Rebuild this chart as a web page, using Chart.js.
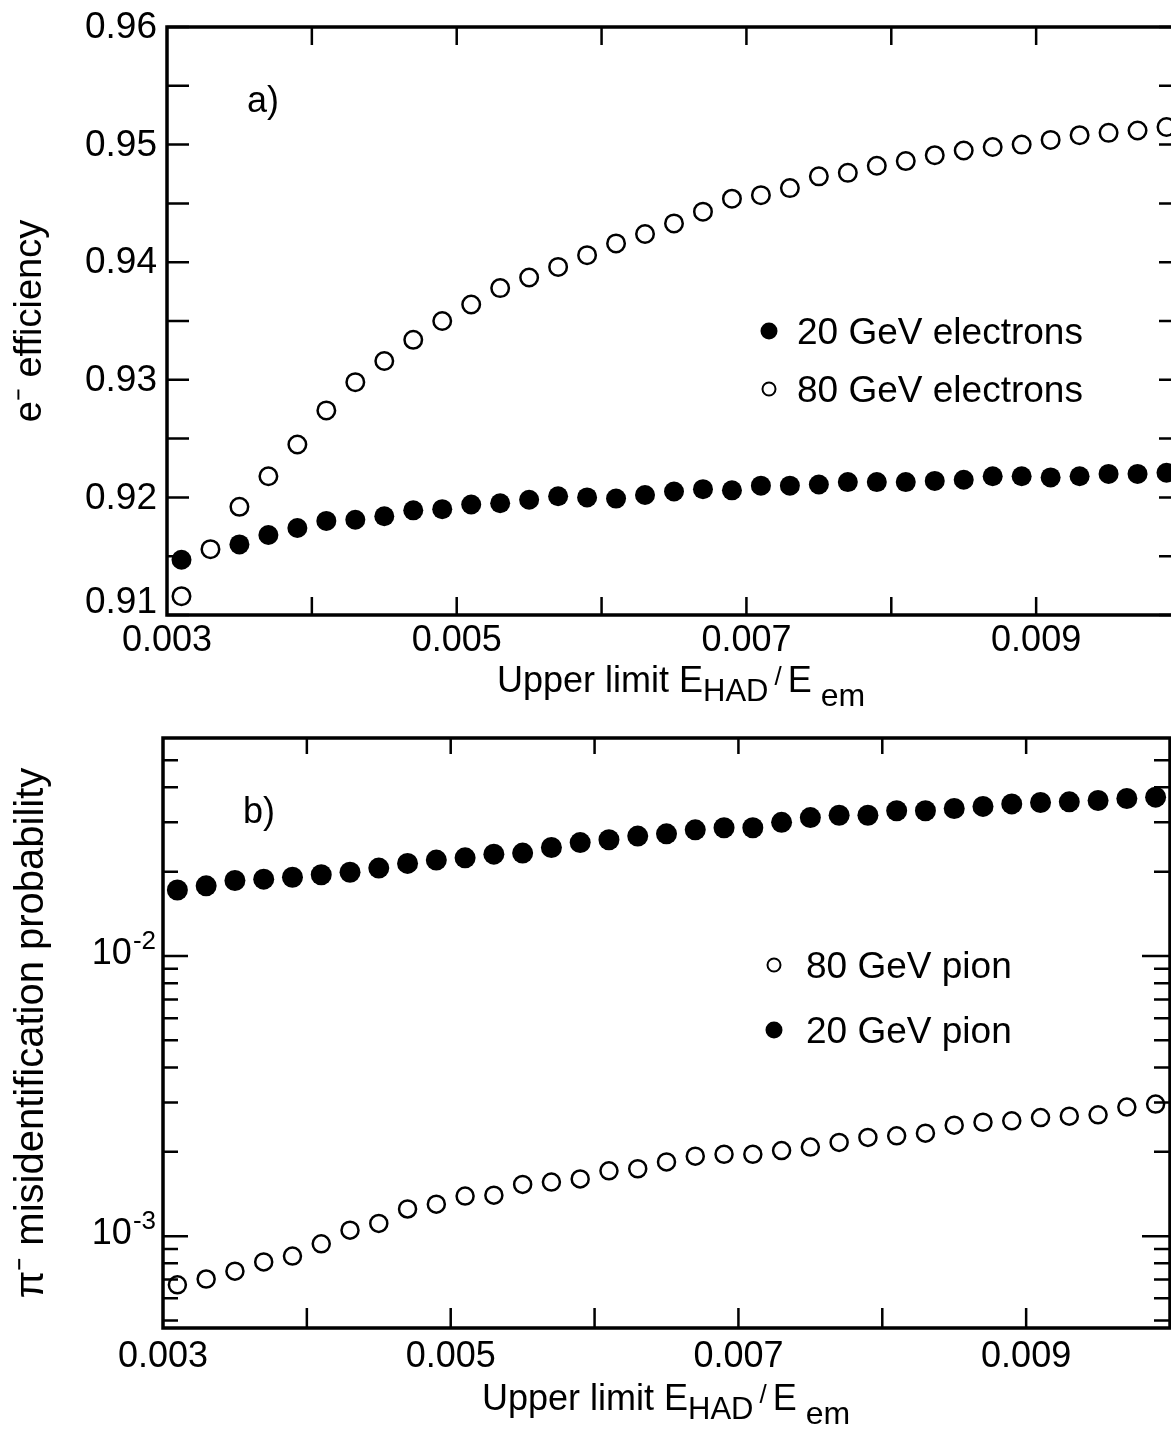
<!DOCTYPE html>
<html>
<head>
<meta charset="utf-8">
<script src="https://cdn.jsdelivr.net/npm/chart.js@4.4.1/dist/chart.umd.min.js"></script>
<style>
  html, body { margin: 0; padding: 0; background: #fff; overflow: hidden; width: 1171px; height: 1437px; }
  canvas { position: absolute; left: 0; }
  #effChart { top: 0; }
  #misChart { top: 720px; }
</style>
</head>
<body>
<canvas id="effChart" width="1200" height="720"></canvas>
<canvas id="misChart" width="1200" height="717"></canvas>
<script>
// --- data ---

// upper limit E_HAD / E_em (same cuts in both panels)
const xValues = [
  0.0031, 0.0033, 0.0035, 0.0037, 0.0039, 0.0041, 0.0043, 0.0045, 0.0047, 0.0049,
  0.0051, 0.0053, 0.0055, 0.0057, 0.0059, 0.0061, 0.0063, 0.0065, 0.0067, 0.0069,
  0.0071, 0.0073, 0.0075, 0.0077, 0.0079, 0.0081, 0.0083, 0.0085, 0.0087, 0.0089,
  0.0091, 0.0093, 0.0095, 0.0097, 0.0099
];

// a) e- efficiency
const electrons20GeV = [
  0.9147, null, 0.9160, 0.9168, 0.9174, 0.9180, 0.9181, 0.9184, 0.9189, 0.9190,
  0.9194, 0.9195, 0.9198, 0.9201, 0.9200, 0.9199, 0.9202, 0.9205, 0.9207, 0.9206,
  0.9210, 0.9210, 0.9211, 0.9213, 0.9213, 0.9213, 0.9214, 0.9215, 0.9218, 0.9218,
  0.9217, 0.9218, 0.9220, 0.9220, 0.9221
];
const electrons80GeV = [
  0.9116, 0.9156, 0.9192, 0.9218, 0.9245, 0.9274, 0.9298, 0.9316, 0.9334, 0.9350,
  0.9364, 0.9378, 0.9387, 0.9396, 0.9406, 0.9416, 0.9424, 0.9433, 0.9443, 0.9454,
  0.9457, 0.9463, 0.9473, 0.9476, 0.9482, 0.9486, 0.9491, 0.9495, 0.9498, 0.9500,
  0.9504, 0.9508, 0.9510, 0.9512, 0.9515
];

// b) pi- misidentification probability
const pions80GeV = [
  0.000670, 0.000703, 0.000750, 0.000809, 0.000849, 0.000939, 0.00105, 0.00111, 0.00125, 0.00130,
  0.00139, 0.00140, 0.00153, 0.00156, 0.00160, 0.00171, 0.00174, 0.00184, 0.00193, 0.00196,
  0.00196, 0.00202, 0.00208, 0.00216, 0.00225, 0.00228, 0.00233, 0.00249, 0.00255, 0.00258,
  0.00265, 0.00268, 0.00271, 0.00289, 0.00296
];
const pions20GeV = [
  0.0172, 0.0178, 0.0186, 0.0188, 0.0191, 0.0195, 0.0199, 0.0206, 0.0214, 0.0220,
  0.0224, 0.0231, 0.0233, 0.0244, 0.0254, 0.0260, 0.0268, 0.0273, 0.0282, 0.0287,
  0.0287, 0.0300, 0.0312, 0.0318, 0.0318, 0.0330, 0.0330, 0.0336, 0.0342, 0.0349,
  0.0353, 0.0355, 0.0359, 0.0365, 0.0369
];

// axes
const xMin = 0.003;
const xMax = 0.010;
const xTickValues = [0.003, 0.005, 0.007, 0.009];
const xTickLabels = ['0.003', '0.005', '0.007', '0.009'];
const xMarkValues = [0.004, 0.005, 0.006, 0.007, 0.008, 0.009];

const effMin = 0.91;
const effMax = 0.96;
const effTickValues = [0.91, 0.92, 0.93, 0.94, 0.95, 0.96];
const effTickLabels = ['0.91', '0.92', '0.93', '0.94', '0.95', '0.96'];
const effMinorValues = [0.915, 0.925, 0.935, 0.945, 0.955];

const misMin = 0.00047;
const misMax = 0.06;
const misTickValues = [0.001, 0.01];
const misTickExponents = ['-3', '-2'];
const misMinorValues = [
  0.0005, 0.0006, 0.0007, 0.0008, 0.0009,
  0.002, 0.003, 0.004, 0.005, 0.006, 0.007, 0.008, 0.009,
  0.02, 0.03, 0.04, 0.05
];

// --- drawing ---

const FONT = "'Liberation Sans', Arial, Helvetica, sans-serif";
Chart.defaults.font.family = FONT;
Chart.defaults.color = '#000';

function toPoints(ys) {
  const pts = [];
  ys.forEach((y, i) => {
    if (y !== null) pts.push({ x: xValues[i], y: y });
  });
  return pts;
}

function filledSet(label, ys, r) {
  return {
    label: label,
    data: toPoints(ys),
    showLine: false,
    pointStyle: 'circle',
    pointRadius: r,
    pointBorderWidth: 0,
    pointBackgroundColor: '#000',
    pointBorderColor: '#000',
    filled: true,
  };
}

function openSet(label, ys, r) {
  return {
    label: label,
    data: toPoints(ys),
    showLine: false,
    pointStyle: 'circle',
    pointRadius: r,
    pointBorderWidth: 2.5,
    pointBackgroundColor: '#fff',
    pointBorderColor: '#000',
    filled: false,
  };
}

// x axis title with subscripts: Upper limit E_HAD / E_em
const xTitleParts = [
  { text: 'Upper limit E', size: 36, dy: 0, gap: 0 },
  { text: 'HAD', size: 31, dy: 9, gap: 0 },
  { text: '/', size: 26, dy: -7, gap: 6 },
  { text: 'E', size: 36, dy: 0, gap: 6 },
  { text: 'em', size: 32, dy: 14, gap: 9 },
];

function drawXTitle(ctx, x, baseline) {
  ctx.textAlign = 'left';
  ctx.textBaseline = 'alphabetic';
  xTitleParts.forEach((p) => {
    x += p.gap;
    ctx.font = `${p.size}px ${FONT}`;
    ctx.fillText(p.text, x, baseline + p.dy);
    x += ctx.measureText(p.text).width;
  });
}

function drawLegend(ctx, chart, lg) {
  ctx.textAlign = 'left';
  ctx.textBaseline = 'alphabetic';
  ctx.font = `37px ${FONT}`;
  lg.order.forEach((idx, row) => {
    const ds = chart.data.datasets[idx];
    const cy = lg.y + row * lg.rowGap;
    ctx.beginPath();
    if (ds.filled) {
      ctx.arc(lg.x, cy, 8.5, 0, Math.PI * 2);
      ctx.fill();
    } else {
      ctx.lineWidth = 2;
      ctx.arc(lg.x, cy, 6.5, 0, Math.PI * 2);
      ctx.stroke();
    }
    ctx.fillText(ds.label, lg.textX, cy + 13);
  });
}

// frame with inward ticks on all four sides, labels, legend
function boxPlugin(cfg) {
  return {
    id: 'box',
    afterDraw(chart) {
      const ctx = chart.ctx;
      const area = chart.chartArea;
      const xs = chart.scales.x;
      const ys = chart.scales.y;
      ctx.save();
      ctx.strokeStyle = '#000';
      ctx.fillStyle = '#000';

      ctx.lineWidth = 2.5;
      ctx.beginPath();
      xMarkValues.forEach((v) => {
        const px = xs.getPixelForValue(v);
        ctx.moveTo(px, area.bottom);
        ctx.lineTo(px, area.bottom - cfg.tickBottom);
        ctx.moveTo(px, area.top);
        ctx.lineTo(px, area.top + cfg.tickTop);
      });
      cfg.yMajor.forEach((v) => {
        const py = ys.getPixelForValue(v);
        ctx.moveTo(area.left, py);
        ctx.lineTo(area.left + cfg.majorLeft, py);
        ctx.moveTo(area.right, py);
        ctx.lineTo(area.right - cfg.majorRight, py);
      });
      cfg.yMinor.forEach((v) => {
        const py = ys.getPixelForValue(v);
        ctx.moveTo(area.left, py);
        ctx.lineTo(area.left + cfg.minorLeft, py);
        ctx.moveTo(area.right, py);
        ctx.lineTo(area.right - cfg.minorRight, py);
      });
      ctx.stroke();

      ctx.lineWidth = 3.5;
      ctx.strokeRect(area.left, area.top, area.right - area.left, area.bottom - area.top);

      cfg.yLabels(ctx, area, ys);

      ctx.textAlign = 'left';
      ctx.textBaseline = 'alphabetic';
      ctx.font = `36px ${FONT}`;
      ctx.fillText(cfg.panel, area.left + 80, area.top + 85);

      drawLegend(ctx, chart, cfg.legend);
      drawXTitle(ctx, area.left + cfg.titleX, cfg.titleBaseline);
      ctx.restore();
    },
  };
}

function effYLabels(ctx, area, ys) {
  ctx.font = `37px ${FONT}`;
  ctx.textAlign = 'right';
  ctx.textBaseline = 'middle';
  effTickValues.forEach((v, i) => {
    let py = ys.getPixelForValue(v);
    if (i === 0) py -= 13; // bottom label sits above the x labels
    ctx.fillText(effTickLabels[i], area.left - 10, py + 1);
  });
}

function misYLabels(ctx, area, ys) {
  ctx.textAlign = 'right';
  ctx.textBaseline = 'alphabetic';
  misTickValues.forEach((v, i) => {
    const py = ys.getPixelForValue(v);
    const xr = area.left - 7;
    ctx.font = `26px ${FONT}`;
    ctx.fillText(misTickExponents[i], xr, py - 7);
    const w = ctx.measureText(misTickExponents[i]).width;
    ctx.font = `36px ${FONT}`;
    ctx.fillText('10', xr - w - 1, py + 8);
  });
}

function xAxis(height, pad) {
  return {
    type: 'linear',
    min: xMin,
    max: xMax,
    grid: { display: false, drawTicks: false },
    border: { display: false },
    afterBuildTicks: (scale) => {
      scale.ticks = xTickValues.map((v) => ({ value: v }));
    },
    afterFit: (scale) => { scale.height = height; },
    ticks: {
      autoSkip: false,
      maxRotation: 0,
      minRotation: 0,
      padding: pad,
      font: { size: 36 },
      color: '#000',
      callback: (v, i) => xTickLabels[i],
    },
  };
}

function yTitle(text, size) {
  return {
    display: true,
    text: text,
    color: '#000',
    font: { size: size },
    padding: { top: 8, bottom: 0 },
  };
}

const commonOptions = {
  responsive: false,
  animation: false,
  events: [],
  plugins: { legend: { display: false }, tooltip: { enabled: false } },
};

new Chart(document.getElementById('effChart'), {
  type: 'scatter',
  data: {
    datasets: [
      filledSet('20 GeV electrons', electrons20GeV, 10),
      openSet('80 GeV electrons', electrons80GeV, 8.75),
    ],
  },
  options: {
    ...commonOptions,
    layout: { padding: { left: 0, right: 19, top: 27, bottom: 0 } },
    scales: {
      x: xAxis(105, 4),
      y: {
        type: 'linear',
        min: effMin,
        max: effMax,
        grid: { display: false, drawTicks: false },
        border: { display: false },
        ticks: { display: false },
        title: yTitle('e\u207B efficiency', 38),
        afterFit: (scale) => { scale.width = 167; },
      },
    },
  },
  plugins: [boxPlugin({
    panel: 'a)',
    yMajor: effTickValues,
    yMinor: effMinorValues,
    majorLeft: 22, minorLeft: 22, majorRight: 22, minorRight: 22,
    tickTop: 18, tickBottom: 18,
    yLabels: effYLabels,
    legend: { order: [0, 1], x: 769, y: 331, rowGap: 58, textX: 797 },
    titleX: 330,
    titleBaseline: 692,
  })],
});

new Chart(document.getElementById('misChart'), {
  type: 'scatter',
  data: {
    datasets: [
      openSet('80 GeV pion', pions80GeV, 8.5),
      filledSet('20 GeV pion', pions20GeV, 10.5),
    ],
  },
  options: {
    ...commonOptions,
    layout: { padding: { left: 0, right: 30, top: 18, bottom: 0 } },
    scales: {
      x: xAxis(109, 7),
      y: {
        type: 'logarithmic',
        min: misMin,
        max: misMax,
        grid: { display: false, drawTicks: false },
        border: { display: false },
        ticks: { display: false },
        title: yTitle('\u03C0\u207B misidentification probability', 40),
        afterFit: (scale) => { scale.width = 163; },
      },
    },
  },
  plugins: [boxPlugin({
    panel: 'b)',
    yMajor: misTickValues,
    yMinor: misMinorValues,
    majorLeft: 25, minorLeft: 15, majorRight: 28, minorRight: 16,
    tickTop: 16, tickBottom: 20,
    yLabels: misYLabels,
    legend: { order: [0, 1], x: 774, y: 245, rowGap: 65, textX: 806 },
    titleX: 319,
    titleBaseline: 690,
  })],
});
</script>
</body>
</html>
